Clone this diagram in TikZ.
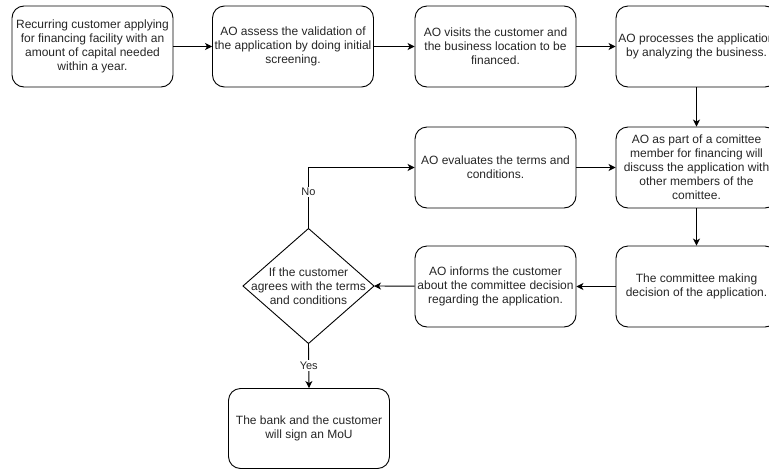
\documentclass[tikz,border=0pt]{standalone}
\usepackage{fontspec}
\setmainfont{Liberation Sans}
\usetikzlibrary{arrows.meta,shapes.geometric}
\begin{document}
\begin{tikzpicture}[x=1pt,y=-1pt,
  font=\fontsize{12}{14}\selectfont,
  every node/.append style={text=black!85},
  stepbox/.style={draw=black, line width=0.9pt, rounded corners=12pt,
    minimum width=161pt, minimum height=81pt, inner sep=0pt, align=center},
  flow/.style={draw=black, line width=0.9pt, -{Stealth[length=7pt,width=7pt,inset=2pt]}},
  lbl/.style={fill=white, inner sep=1.5pt, font=\fontsize{11}{13}\selectfont}]
\useasboundingbox (0,0) rectangle (769,469);
\clip (0,0) rectangle (769,469);
\node[stepbox] (b1) at (92.5,46.5) {Recurring customer applying\\for financing facility with an\\amount of capital needed\\within a year.};
\node[stepbox] (b2) at (293,46.5) {AO assess the validation of\\the application by doing initial\\screening.};
\node[stepbox] (b3) at (495.5,46.5) {AO visits the customer and\\the business location to be\\financed.};
\node[stepbox] (b4) at (696.5,46.5) {AO processes the application\\by analyzing the business.};
\node[stepbox] (b5) at (696.5,167.5) {AO as part of a comittee\\member for financing will\\discuss the application with\\other members of the\\comittee.};
\node[stepbox] (b6) at (495.5,167.5) {AO evaluates the terms and\\conditions.};
\node[stepbox] (b7) at (696.5,286.5) {The committee making\\decision of the application.};
\node[stepbox] (b8) at (495.5,286.5) {AO informs the customer\\about the committee decision\\regarding the application.};
\coordinate (dc) at (308.5,286);
\coordinate (dn) at (308.5,228.5);
\coordinate (ds) at (308.5,343.5);
\coordinate (dw) at (243,286);
\coordinate (de) at (374,286);
\draw[line width=0.9pt] (dn) -- (de) -- (ds) -- (dw) -- cycle;
\node[align=center, inner sep=0pt] (d) at (dc) {If the customer\\agrees with the terms\\and conditions};
\node[stepbox, minimum height=80pt] (b9) at (309,428.5) {The bank and the customer\\will sign an MoU};
\draw[flow] (b1) -- (b2);
\draw[flow] (b2) -- (b3);
\draw[flow] (b3) -- (b4);
\draw[flow] (b4) -- (b5);
\draw[flow] (b6) -- (b5);
\draw[flow] (b5) -- (b7);
\draw[flow] (b7) -- (b8);
\draw[flow] (b8) -- (de);
\draw[flow] (dn) |- (b6.west) node[lbl, pos=0.3] {No};
\draw[flow] (ds) -- (b9.north) node[lbl, midway] {Yes};
\end{tikzpicture}
\end{document}
